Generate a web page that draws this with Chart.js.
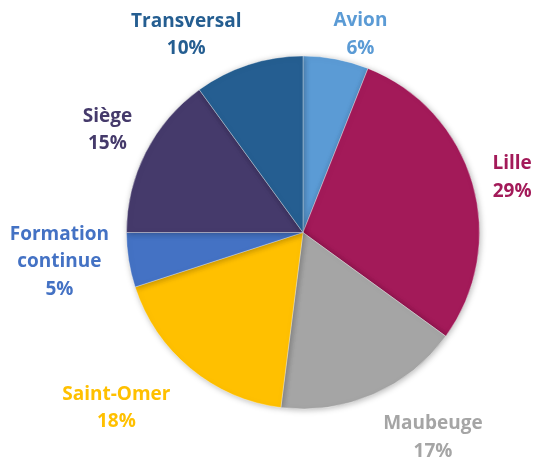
<!DOCTYPE html>
<html>
<head>
<meta charset="utf-8">
<script src="https://cdn.jsdelivr.net/npm/chart.js@4/dist/chart.umd.min.js"></script>
<style>
  body { margin: 0; background: #fff; }
  #wrap { width: 534px; height: 457px; }
</style>
</head>
<body>
<div id="wrap"><canvas id="myChart" width="534" height="457"></canvas></div>
<script>
// data
const sites = ["Avion", "Lille", "Maubeuge", "Saint-Omer", ["Formation", "continue"], "Siège", "Transversal"]
const shares = [6, 29, 17, 18, 5, 15, 10]
const sliceColors = ["#5B9BD5", "#A31A59", "#A5A5A5", "#FFC000", "#4472C4", "#453A6B", "#255E91"]

// soft shadow under the pie, like the office chart
const pieShadow = {
    id: "pieShadow",
    beforeDatasetsDraw(chart) {
        const ctx = chart.ctx
        ctx.save()
        ctx.shadowColor = "rgba(0,0,0,0.28)"
        ctx.shadowBlur = 6
        ctx.shadowOffsetX = 1
        ctx.shadowOffsetY = 1
    },
    afterDatasetsDraw(chart) {
        chart.ctx.restore()
    }
}

// labels outside each slice: name + percent
const outerLabels = {
    id: "outerLabels",
    afterDatasetsDraw(chart, args, opts) {
        const ctx = chart.ctx
        const meta = chart.getDatasetMeta(0)
        const values = chart.data.datasets[0].data
        ctx.save()
        ctx.font = "bold " + opts.size + "px " + opts.family
        ctx.textAlign = "center"
        ctx.textBaseline = "middle"
        meta.data.forEach((arc, i) => {
            const p = arc.getProps(["x", "y", "startAngle", "endAngle", "outerRadius"], true)
            const mid = (p.startAngle + p.endAngle) / 2
            const name = chart.data.labels[i]
            const lines = (Array.isArray(name) ? name : [name]).concat([values[i] + "%"])
            const w = Math.max(...lines.map(l => ctx.measureText(l).width))
            const h = lines.length * opts.lineHeight
            const ux = Math.cos(mid), uy = Math.sin(mid)
            const need = p.outerRadius + opts.gap
            let t = p.outerRadius
            let cx = p.x, cy = p.y
            for (; t < p.outerRadius + 300; t++) {
                cx = p.x + ux * t
                cy = p.y + uy * t
                const nx = Math.max(cx - w / 2, Math.min(p.x, cx + w / 2))
                const ny = Math.max(cy - h / 2, Math.min(p.y, cy + h / 2))
                if (Math.hypot(nx - p.x, ny - p.y) >= need) break
            }
            // best-fit shift, as the office layout moved some labels aside
            const shift = opts.nudge[i] || [0, 0]
            cx += shift[0]
            cy += shift[1]
            ctx.fillStyle = sliceColors[i]
            lines.forEach((l, k) => {
                ctx.fillText(l, cx, cy - h / 2 + opts.lineHeight * (k + 0.5))
            })
        })
        ctx.restore()
    }
}

const chartEl = document.getElementById("myChart")
const chart = new Chart(chartEl, {
    type: "pie",
    data: {
        labels: sites,
        datasets: [{
            data: shares,
            backgroundColor: sliceColors,
            borderColor: "rgba(255,255,255,0.35)",
            borderWidth: 1
        }]
    },
    options: {
        responsive: false,
        animation: false,
        layout: {
            padding: { left: 126, right: 54, top: 55, bottom: 47 }
        },
        plugins: {
            legend: { display: false },
            tooltip: { enabled: false },
            outerLabels: {
                size: 19,
                family: "'Open Sans', sans-serif",
                lineHeight: 27.5,
                gap: 8,
                nudge: [[17, 14], [7, 4], [40, -3], [-34, -9], [-9, -8], [0, -3], [-48, 14]]
            }
        }
    },
    plugins: [pieShadow, outerLabels]
})
</script>
</body>
</html>
